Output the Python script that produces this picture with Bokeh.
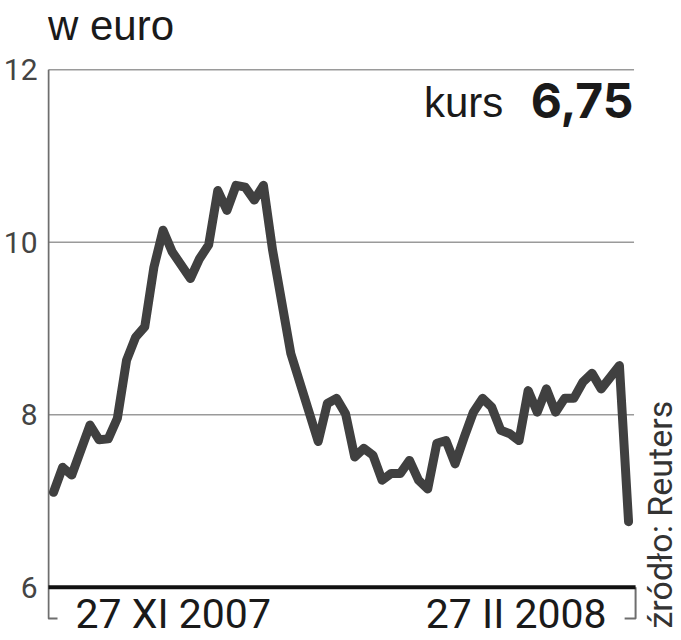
import math
from bokeh.plotting import figure
from bokeh.models import Range1d, FixedTicker, Label
from bokeh.embed import file_html
from bokeh.resources import INLINE

# ---- data (trading-day index since 27 XI 2007, EUR rate) ----
days = [0, 1, 2, 4, 5, 6, 7, 8, 9, 10, 11, 12, 13, 15, 16, 17, 18, 19, 20, 21,
        22, 23, 24, 26, 29, 30, 31, 32, 33, 34, 35, 36, 37, 38, 39, 40, 41, 42, 43, 44,
        45, 46, 47, 48, 49, 50, 51, 52, 53, 54, 55, 56, 57, 58, 59, 60, 62, 63]
rate = [7.10, 7.39, 7.30, 7.88, 7.71, 7.72, 7.96, 8.63, 8.90, 9.02,
        9.71, 10.14, 9.89, 9.58, 9.81, 9.97, 10.60, 10.37, 10.66, 10.64,
        10.49, 10.66, 9.91, 8.71, 7.69, 8.13, 8.19, 8.01, 7.51, 7.61,
        7.53, 7.24, 7.32, 7.32, 7.47, 7.24, 7.14, 7.67, 7.70, 7.43,
        7.74, 8.03, 8.19, 8.09, 7.82, 7.78, 7.70, 8.28, 8.03, 8.30,
        8.03, 8.19, 8.19, 8.38, 8.48, 8.30, 8.57, 6.76]
y_ticks = [6, 8, 10, 12]
grid_values = [8, 10, 12]
unit_label = "w euro"
last_label = "kurs"
last_value = "6,75"
start_label = "27 XI 2007"
end_label = "27 II 2008"
source_label = "źródło: Reuters"

p = figure(width=681, height=640, output_backend="svg", toolbar_location=None,
           x_axis_location=None, y_axis_location="left",
           x_range=Range1d(-0.656, 68.80), y_range=Range1d(5.382, 12.804),
           min_border_left=46, min_border_right=0, min_border_top=0, min_border_bottom=0)
p.outline_line_color = None
p.xgrid.visible = False
p.ygrid.visible = False
p.background_fill_color = "white"

ax = p.yaxis[0]
ax.ticker = FixedTicker(ticks=y_ticks)
ax.axis_line_color = None
ax.major_tick_line_color = None
ax.minor_tick_line_color = None
ax.major_label_standoff = 4
ax.major_label_text_font = "Roboto"
ax.major_label_text_font_size = "30px"
ax.major_label_text_color = "#444444"

x_axis = -0.547
x_end = 63.77

# gridlines
p.segment(x0=[x_axis] * len(grid_values), y0=grid_values,
          x1=[63.6] * len(grid_values), y1=grid_values,
          line_color="#9a9a9a", line_width=1.5)
# vertical axis line with left bracket
p.line(x=[x_axis, x_axis, 0.44], y=[12, 5.637, 5.637], line_color="#6e6e6e", line_width=2)
# right bracket
p.line(x=[x_end, x_end, 62.57], y=[6.0, 5.637, 5.637], line_color="#6e6e6e", line_width=2)
# baseline
p.line(x=[x_axis, x_end], y=[6, 6], line_color="#111111", line_width=4)

# series
p.line(x=days, y=rate, line_color="#404040", line_width=9,
       line_join="round", line_cap="round")

# texts
p.add_layout(Label(x=-0.60, y=12.514, text=unit_label, text_font="Liberation Sans",
                   text_font_size="42px", text_color="#1a1a1a",
                   text_align="left", text_baseline="alphabetic"))
p.add_layout(Label(x=40.58, y=11.617, text=last_label, text_font="Liberation Sans",
                   text_font_size="42px", text_color="#1a1a1a",
                   text_align="left", text_baseline="alphabetic"))
p.add_layout(Label(x=63.54, y=11.642, text=last_value, text_font="Inter",
                   text_font_style="bold", text_font_size="48px", text_color="#1a1a1a",
                   text_align="right", text_baseline="alphabetic"))
p.add_layout(Label(x=2.41, y=5.688, text=start_label, text_font="Roboto",
                   text_font_size="41px", text_color="#1a1a1a",
                   text_align="left", text_baseline="alphabetic"))
p.add_layout(Label(x=60.60, y=5.688, text=end_label, text_font="Roboto",
                   text_font_size="41px", text_color="#1a1a1a",
                   text_align="right", text_baseline="alphabetic"))
p.add_layout(Label(x=66.39, y=5.521, text=source_label, text_font="Roboto",
                   text_font_size="34px", text_color="#333333", angle=math.pi / 2,
                   text_align="left", text_baseline="alphabetic"))

open("out.html", "w").write(file_html(p, INLINE))
